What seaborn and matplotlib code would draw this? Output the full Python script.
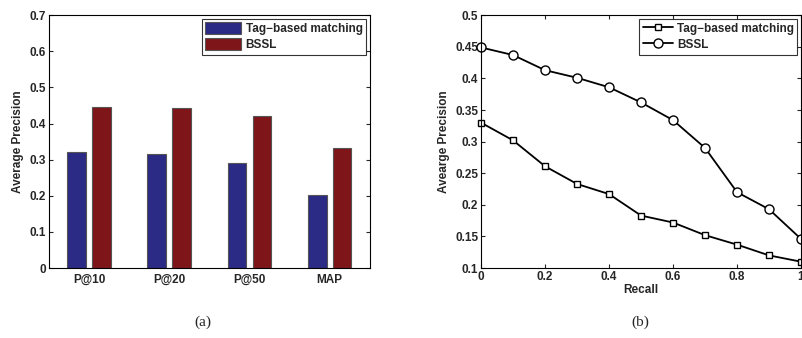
import pandas as pd
import matplotlib
matplotlib.use('Agg')
import matplotlib.pyplot as plt
import seaborn as sns

# data for (a)
metrics = ['P@10', 'P@20', 'P@50', 'MAP']
tag_bar = [0.320, 0.316, 0.292, 0.201]
bssl_bar = [0.447, 0.442, 0.422, 0.331]

# data for (b)
recall = [0, 0.1, 0.2, 0.3, 0.4, 0.5, 0.6, 0.7, 0.8, 0.9, 1.0]
tag_line = [0.330, 0.302, 0.261, 0.233, 0.217, 0.183, 0.172, 0.152, 0.137, 0.120, 0.110]
bssl_line = [0.449, 0.437, 0.413, 0.401, 0.386, 0.362, 0.334, 0.290, 0.220, 0.193, 0.146]

sns.set_style('ticks')
plt.rcParams['font.family'] = ['Liberation Sans', 'DejaVu Sans']
plt.rcParams['font.weight'] = 'bold'
plt.rcParams['axes.labelweight'] = 'bold'
fs = 8.5

fig = plt.figure(figsize=(8.02, 3.38), dpi=100)
ax1 = fig.add_axes([0.061, 0.207, 0.400, 0.748])
ax2 = fig.add_axes([0.5998, 0.207, 0.399, 0.748])

# (a) bar chart
bar_df = pd.DataFrame({
    'metric': metrics * 2,
    'value': tag_bar + bssl_bar,
    'method': ['Tag\u2212based matching'] * 4 + ['BSSL'] * 4,
})
sns.barplot(data=bar_df, x='metric', y='value', hue='method',
            palette=['#2B2A84', '#7E1519'], width=0.62, gap=0.25,
            edgecolor='#555555', linewidth=0.8, saturation=1, ax=ax1)
ax1.set_ylim(0, 0.7)
ax1.set_xlim(-0.5, 3.5)
ax1.set_yticks([0, 0.1, 0.2, 0.3, 0.4, 0.5, 0.6, 0.7])
ax1.set_yticklabels(['0', '0.1', '0.2', '0.3', '0.4', '0.5', '0.6', '0.7'])
ax1.set_xlabel('')
ax1.set_ylabel('Average Precision', fontsize=fs)
leg = ax1.legend(loc='upper right', fontsize=fs, frameon=True, fancybox=False,
                 edgecolor='black', handlelength=3.0, handleheight=1.2,
                 borderaxespad=0.3, labelspacing=0.25, borderpad=0.3,
                 handletextpad=0.4)
leg.get_frame().set_linewidth(0.8)

# (b) precision-recall curves
sns.lineplot(x=recall, y=tag_line, ax=ax2, color='black', linewidth=1.3,
             marker='s', markersize=5, markerfacecolor='white',
             markeredgecolor='black', markeredgewidth=1,
             label='Tag\u2212based matching', clip_on=False)
sns.lineplot(x=recall, y=bssl_line, ax=ax2, color='black', linewidth=1.3,
             marker='o', markersize=6.5, markerfacecolor='white',
             markeredgecolor='black', markeredgewidth=1,
             label='BSSL', clip_on=False)
ax2.set_xlim(0, 1)
ax2.set_ylim(0.1, 0.5)
ax2.set_xticks([0, 0.2, 0.4, 0.6, 0.8, 1])
ax2.set_xticklabels(['0', '0.2', '0.4', '0.6', '0.8', '1'])
ax2.set_yticks([0.1, 0.15, 0.2, 0.25, 0.3, 0.35, 0.4, 0.45, 0.5])
ax2.set_yticklabels(['0.1', '0.15', '0.2', '0.25', '0.3', '0.35', '0.4', '0.45', '0.5'])
ax2.set_xlabel('Recall', fontsize=fs, labelpad=1)
ax2.set_ylabel('Avearge Precision', fontsize=fs)
leg2 = ax2.legend(loc='upper right', fontsize=fs, frameon=True, fancybox=False,
                  edgecolor='black', handlelength=2.6, handleheight=1.2,
                  borderaxespad=0.3, labelspacing=0.25, borderpad=0.3,
                  handletextpad=0.3)
leg2.get_frame().set_linewidth(0.8)

for ax in (ax1, ax2):
    for s in ax.spines.values():
        s.set_visible(True)
        s.set_linewidth(0.8)
        s.set_color('black')
    ax.tick_params(direction='in', top=True, right=True, length=3,
                   width=0.8, labelsize=fs, pad=2)
ax1.tick_params(axis='x', top=False, length=0, pad=4)

fig.text(0.253, 0.047, '(a)', fontsize=11, fontweight='normal',
         family=['Liberation Serif'], ha='center', va='center')
fig.text(0.798, 0.047, '(b)', fontsize=11, fontweight='normal',
         family=['Liberation Serif'], ha='center', va='center')

fig.savefig('out.png', dpi=100)
